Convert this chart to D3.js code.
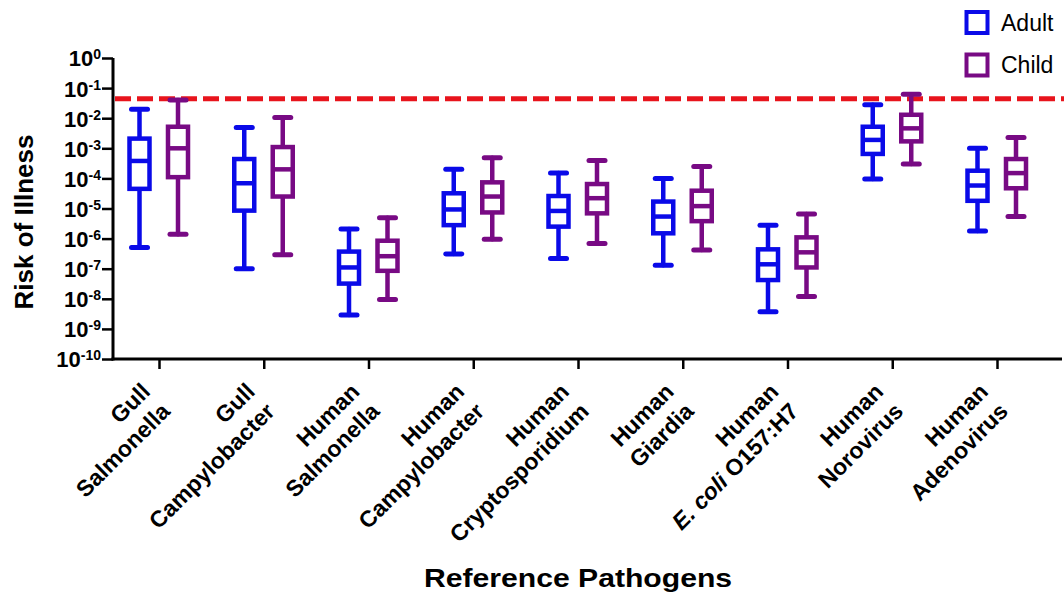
<!DOCTYPE html>
<html>
<head>
<meta charset="utf-8">
<script src="https://cdn.jsdelivr.net/npm/d3@7"></script>
<style>
  body { margin: 0; background: #fff; }
  svg { font-family: "Liberation Sans", Arial, sans-serif; }
</style>
</head>
<body>
<div id="chart"></div>
<script>
// chart size
const WIDTH = 1064;
const HEIGHT = 597;

// categories, two lines each (second line may have an italic part)
const categories = ["Gull Salmonella", "Gull Campylobacter", "Human Salmonella", "Human Campylobacter",
  "Human Cryptosporidium", "Human Giardia", "Human E. coli O157:H7", "Human Norovirus", "Human Adenovirus"];
const labelTop = ["Gull", "Gull", "Human", "Human", "Human", "Human", "Human", "Human", "Human"];
const labelBottom = ["Salmonella", "Campylobacter", "Salmonella", "Campylobacter",
  "Cryptosporidium", "Giardia", "O157:H7", "Norovirus", "Adenovirus"];
const labelItalic = ["", "", "", "", "", "", "E. coli ", "", ""];

// [min, q1, median, q3, max] risk of illness
const adult = [
  [5.1e-7, 4.5e-5, 3.8e-4, 2.1e-3, 2.0e-2],
  [1.0e-7, 8.5e-6, 6.9e-5, 4.4e-4, 4.9e-3],
  [2.9e-9, 3.2e-8, 1.1e-7, 3.7e-7, 2.1e-6],
  [3.1e-7, 2.8e-6, 9.3e-6, 3.2e-5, 2.0e-4],
  [2.2e-7, 2.5e-6, 8.3e-6, 2.6e-5, 1.5e-4],
  [1.3e-7, 1.5e-6, 5.4e-6, 1.7e-5, 1.0e-4],
  [3.7e-9, 4.2e-8, 1.4e-7, 4.4e-7, 2.8e-6],
  [9.5e-5, 6.5e-4, 1.9e-3, 5.2e-3, 2.8e-2],
  [1.8e-6, 1.8e-5, 5.8e-5, 1.8e-4, 1.0e-3]
];
const child = [
  [1.4e-6, 1.1e-4, 1.0e-3, 5.2e-3, 4.0e-2],
  [2.9e-7, 2.5e-5, 2.0e-4, 1.1e-3, 1.05e-2],
  [9.5e-9, 8.5e-8, 2.6e-7, 8.5e-7, 4.9e-6],
  [9.5e-7, 7.4e-6, 2.5e-5, 7.4e-5, 4.9e-4],
  [6.9e-7, 6.9e-6, 2.2e-5, 6.5e-5, 3.9e-4],
  [4.2e-7, 3.8e-6, 1.2e-5, 3.9e-5, 2.5e-4],
  [1.2e-8, 1.1e-7, 3.5e-7, 1.1e-6, 6.6e-6],
  [3.0e-4, 1.7e-3, 4.6e-3, 1.3e-2, 6.3e-2],
  [5.4e-6, 4.7e-5, 1.5e-4, 4.4e-4, 2.3e-3]
];
const threshold = 0.044;

const yExponents = [0, -1, -2, -3, -4, -5, -6, -7, -8, -9, -10];
const groups = ["Adult", "Child"];
const colors = { Adult: "#0a0ae8", Child: "#780a84" };

const svg = d3.select("#chart").append("svg")
  .attr("width", WIDTH)
  .attr("height", HEIGHT);

// scales
const axisLeftX = 113, axisBottomY = 359;
const y = d3.scaleLog().domain([1e-10, 1]).range([axisBottomY, 58]);
const x = d3.scalePoint().domain(categories).range([159, 997]);
const offset = { Adult: -19.5, Child: 19 };
const boxW = 20, capW = 16;

// threshold line (under the boxes)
svg.append("line")
  .attr("x1", axisLeftX + 2).attr("x2", WIDTH)
  .attr("y1", y(threshold)).attr("y2", y(threshold))
  .attr("stroke", "#e8141c")
  .attr("stroke-width", 5)
  .attr("stroke-dasharray", "16,6");

// y axis
const yAxis = d3.axisLeft(y)
  .tickValues(yExponents.map(e => Math.pow(10, e)))
  .tickSize(11)
  .tickSizeOuter(0)
  .tickFormat("");
const gy = svg.append("g")
  .attr("transform", `translate(${axisLeftX},0)`)
  .call(yAxis)
  .attr("font-family", null);
gy.select(".domain").attr("stroke", "#000").attr("stroke-width", 3)
  .attr("d", `M0,${axisBottomY + 1.5}V58`);
gy.selectAll(".tick line").attr("stroke", "#000").attr("stroke-width", 2.5);
gy.selectAll(".tick").each(function(d) {
  const t = d3.select(this).append("text")
    .attr("x", -12)
    .attr("dy", "0.36em")
    .attr("text-anchor", "end")
    .attr("fill", "#000")
    .style("font-size", "22px")
    .style("font-weight", "bold");
  t.append("tspan").text("10");
  t.append("tspan").attr("dy", "-0.5em").style("font-size", "14px")
    .text(Math.round(Math.log10(d)));
});

// x axis
const xAxis = d3.axisBottom(x).tickSize(10).tickSizeOuter(0).tickFormat("");
const gx = svg.append("g")
  .attr("transform", `translate(0,${axisBottomY})`)
  .call(xAxis)
  .attr("font-family", null);
gx.select(".domain").attr("stroke", "#000").attr("stroke-width", 3)
  .attr("d", `M${axisLeftX - 1.5},0H1062`);
gx.selectAll(".tick line").attr("stroke", "#000").attr("stroke-width", 2.5);
gx.selectAll(".tick").each(function(d, i) {
  const t = d3.select(this).append("text")
    .attr("transform", "translate(-8,34) rotate(-45)")
    .attr("text-anchor", "end")
    .attr("fill", "#000")
    .style("font-size", "23px")
    .style("font-weight", "bold");
  t.append("tspan").attr("x", 0).attr("y", 0).text(labelTop[i]);
  const l2 = t.append("tspan").attr("x", 0).attr("y", 28);
  if (labelItalic[i]) l2.append("tspan").style("font-style", "italic").text(labelItalic[i]);
  l2.append("tspan").text(labelBottom[i]);
});

// boxes
groups.forEach(g => {
  const stats = g === "Adult" ? adult : child;
  const gb = svg.append("g")
    .attr("stroke", colors[g])
    .attr("stroke-width", 4.5)
    .attr("fill", "none")
    .attr("stroke-linecap", "round");
  const box = gb.selectAll("g.box").data(stats).enter().append("g").attr("class", "box")
    .attr("transform", (d, i) => `translate(${x(categories[i]) + offset[g]},0)`);
  // whiskers
  box.append("line").attr("y1", d => y(d[0])).attr("y2", d => y(d[1]));
  box.append("line").attr("y1", d => y(d[3])).attr("y2", d => y(d[4]));
  // caps
  box.append("line").attr("x1", -capW / 2).attr("x2", capW / 2)
    .attr("y1", d => y(d[0])).attr("y2", d => y(d[0])).attr("stroke-width", 5);
  box.append("line").attr("x1", -capW / 2).attr("x2", capW / 2)
    .attr("y1", d => y(d[4])).attr("y2", d => y(d[4])).attr("stroke-width", 5);
  // box + median
  box.append("rect")
    .attr("x", -boxW / 2).attr("width", boxW)
    .attr("y", d => y(d[3]))
    .attr("height", d => y(d[1]) - y(d[3]))
    .attr("fill", "#fff");
  box.append("line").attr("x1", -boxW / 2).attr("x2", boxW / 2)
    .attr("y1", d => y(d[2])).attr("y2", d => y(d[2])).attr("stroke-linecap", "butt");
});

// legend
const legend = svg.append("g").selectAll("g").data(groups).enter().append("g")
  .attr("transform", (d, i) => `translate(977,${22.5 + i * 42.5})`);
legend.append("rect")
  .attr("x", -10.5).attr("y", -10.5).attr("width", 21).attr("height", 21)
  .attr("fill", "none").attr("stroke", d => colors[d]).attr("stroke-width", 4);
legend.append("text")
  .attr("x", 24).attr("dy", "0.36em")
  .style("font-size", "23px")
  .text(d => d);

// axis titles
svg.append("text")
  .attr("transform", `translate(33,222) rotate(-90)`)
  .attr("text-anchor", "middle")
  .style("font-size", "26px").style("font-weight", "bold")
  .text("Risk of Illness");
svg.append("text")
  .attr("transform", "translate(578,587) scale(1.16,1)")
  .attr("text-anchor", "middle")
  .style("font-size", "26px").style("font-weight", "bold")
  .text("Reference Pathogens");
</script>
</body>
</html>
